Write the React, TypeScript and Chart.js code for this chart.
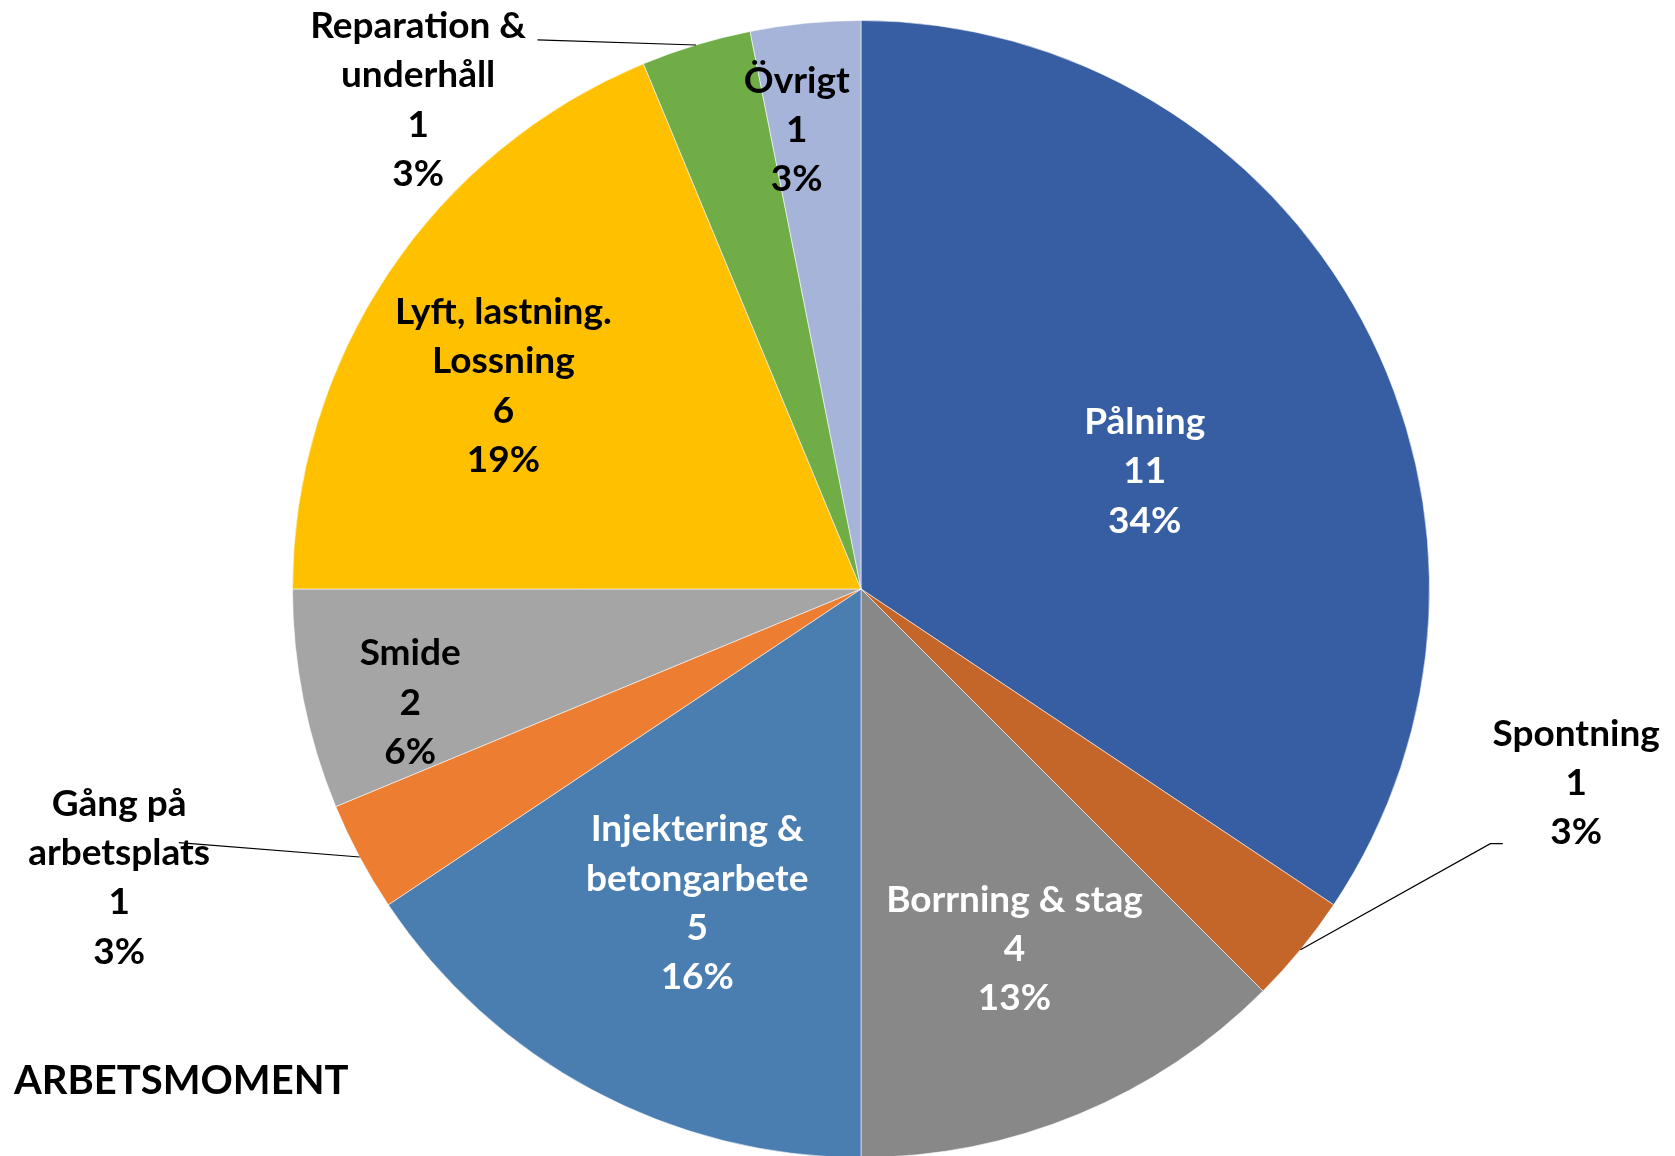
import React, { useEffect, useRef } from "react";
import { Chart, registerables } from "chart.js";

Chart.register(...registerables);

// ---- Data ----
const categories: string[][] = [
  ["Pålning"],
  ["Spontning"],
  ["Borrning & stag"],
  ["Injektering &", "betongarbete"],
  ["Gång på", "arbetsplats"],
  ["Smide"],
  ["Lyft, lastning.", "Lossning"],
  ["Reparation &", "underhåll"],
  ["Övrigt"],
];
const values: number[] = [11, 1, 4, 5, 1, 2, 6, 1, 1];
const sliceColors: string[] = [
  "#375EA2",
  "#C4662A",
  "#888888",
  "#4A7EB1",
  "#ED7D31",
  "#A5A5A5",
  "#FFC000",
  "#70AD47",
  "#A6B4DA",
];
const chartTitle = "ARBETSMOMENT";

// ---- Label placement (fractions of radius, relative to pie centre) ----
type Placement = { dx: number; dy: number; color: string; leader?: number[][] };
const placements: Placement[] = [
  { dx: 0.499, dy: -0.207, color: "#ffffff" },
  { dx: 1.258, dy: 0.341, color: "#000000", leader: [[1.129, 0.448], [1.107, 0.448]] },
  { dx: 0.27, dy: 0.633, color: "#ffffff" },
  { dx: -0.288, dy: 0.553, color: "#ffffff" },
  { dx: -1.305, dy: 0.508, color: "#000000", leader: [[-1.2, 0.446]] },
  { dx: -0.793, dy: 0.2, color: "#000000" },
  { dx: -0.629, dy: -0.357, color: "#000000" },
  { dx: -0.779, dy: -0.86, color: "#000000", leader: [[-0.569, -0.966]] },
  { dx: -0.113, dy: -0.807, color: "#000000" },
];

const FONT_FAMILY = "Lato, 'Noto Sans', sans-serif";

const labelPlugin = {
  id: "pieLabels",
  afterDatasetsDraw(chart: any) {
    const meta = chart.getDatasetMeta(0);
    const ctx: CanvasRenderingContext2D = chart.ctx;
    const total = values.reduce((a, b) => a + b, 0);
    meta.data.forEach((arc: any, i: number) => {
      const { x, y, outerRadius, startAngle, endAngle } = arc.getProps(
        ["x", "y", "outerRadius", "startAngle", "endAngle"],
        true
      );
      const R = outerRadius;
      const p = placements[i];
      const lines = [
        ...categories[i],
        String(values[i]),
        Math.round((values[i] / total) * 100) + "%",
      ];
      const lh = R * (49.3 / 569);
      const cx = x + p.dx * R;
      const cy = y + p.dy * R;
      ctx.save();
      ctx.font = `bold ${Math.round(R * (37 / 569))}px ${FONT_FAMILY}`;
      ctx.fillStyle = p.color;
      ctx.textAlign = "center";
      ctx.textBaseline = "middle";
      lines.forEach((t, k) => {
        ctx.fillText(t, cx, cy + (k - (lines.length - 1) / 2) * lh);
      });
      if (p.leader) {
        const mid = (startAngle + endAngle) / 2;
        ctx.strokeStyle = "#000000";
        ctx.lineWidth = 1.2;
        ctx.beginPath();
        p.leader.forEach((pt, k) => {
          const px = x + pt[0] * R;
          const py = y + pt[1] * R;
          if (k === 0) ctx.moveTo(px, py);
          else ctx.lineTo(px, py);
        });
        ctx.lineTo(x + Math.cos(mid) * R, y + Math.sin(mid) * R);
        ctx.stroke();
      }
      ctx.restore();
    });
  },
  afterDraw(chart: any) {
    const ctx: CanvasRenderingContext2D = chart.ctx;
    ctx.save();
    ctx.font = `bold 40px ${FONT_FAMILY}`;
    ctx.fillStyle = "#000000";
    ctx.textAlign = "left";
    ctx.textBaseline = "alphabetic";
    ctx.fillText(chartTitle, 14, 1094);
    ctx.restore();
  },
};

export default function App() {
  const canvasRef = useRef<HTMLCanvasElement | null>(null);

  useEffect(() => {
    const canvas = canvasRef.current;
    if (!canvas) return;
    const chart = new Chart(canvas, {
      type: "pie",
      data: {
        labels: categories.map((c) => c.join(" ")),
        datasets: [
          {
            data: values,
            backgroundColor: sliceColors,
            borderColor: "rgba(255,255,255,0.55)",
            borderWidth: 1,
          },
        ],
      },
      options: {
        responsive: false,
        animation: false,
        devicePixelRatio: 1,
        layout: { padding: { left: 292, right: 245, top: 20, bottom: 12 } },
        plugins: {
          legend: { display: false },
          tooltip: { enabled: false },
          title: { display: false },
        },
      },
      plugins: [labelPlugin],
    });
    return () => chart.destroy();
  }, []);

  return (
    <div
      style={{
        position: "fixed",
        left: 0,
        top: 0,
        width: 1675,
        height: 1156,
        overflow: "hidden",
        background: "#ffffff",
      }}
    >
      <canvas
        ref={canvasRef}
        width={1675}
        height={1170}
        style={{ display: "block", width: 1675, height: 1170 }}
      />
    </div>
  );
}
